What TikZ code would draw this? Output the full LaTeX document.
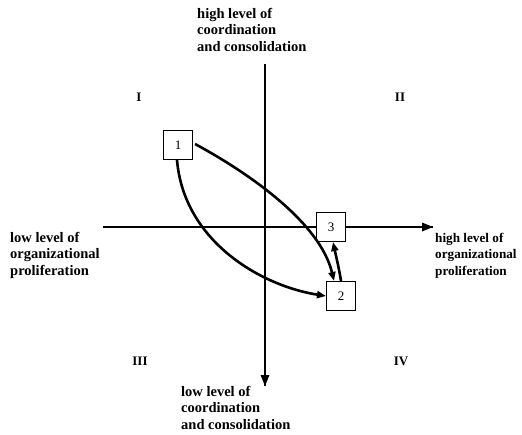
\documentclass[tikz,border=0pt]{standalone}
\usepackage{fontspec}
\setmainfont{Liberation Serif}
\usetikzlibrary{arrows.meta}
\begin{document}
\begin{tikzpicture}[x=1pt,y=-1pt,
  axis/.style={line width=2pt},
  flow/.style={line width=2.6pt,-{Triangle[length=9pt,width=7pt]}},
  stage/.style={draw,line width=1.1pt,fill=white,minimum size=29pt,inner sep=0pt,font=\fontsize{13}{13}\selectfont},
  axislabel/.style={align=left,anchor=north west,inner sep=0pt,font=\bfseries\fontsize{14.5}{16.5}\selectfont},
  quadrant/.style={inner sep=0pt,font=\bfseries\fontsize{13}{13}\selectfont}]
\useasboundingbox (0,0) rectangle (522,434);
\fill[white] (0,0) rectangle (522,434);

% axes
\coordinate (ytop) at (265,64);
\coordinate (ybot) at (265,386);
\coordinate (xleft) at (103,227);
\coordinate (xright) at (433,227);
\draw[axis] (ytop) -- (ybot);
\draw[axis] (xleft) -- (xright);
\fill (ybot) -- ++(-4.5,-11) -- ++(9,0) -- cycle;
\fill (xright) -- ++(-11,-4.5) -- ++(0,9) -- cycle;

% axis labels
\node[axislabel] (top) at (197,8) {high level of\\coordination\\and consolidation};
\node[axislabel] (left) at (10,232) {low level of\\organizational\\proliferation};
\node[axislabel,font=\bfseries\fontsize{13.2}{16.5}\selectfont] (right) at (435,233) {high level of\\organizational\\proliferation};
\node[axislabel] (bottom) at (181,386) {low level of\\coordination\\and consolidation};

% quadrant numbers
\node[quadrant] (q1) at (139,97) {I};
\node[quadrant] (q2) at (400,97) {II};
\node[quadrant] (q3) at (140,361) {III};
\node[quadrant] (q4) at (401,361) {IV};

% stages
\node[stage] (s1) at (178,145) {1};
\node[stage] (s3) at (331,227) {3};
\node[stage] (s2) at (341,296) {2};

% transitions
\draw[flow] ([xshift=2pt,yshift=1pt]s1.east) .. controls (247,172) and (320,222) .. ([xshift=-7pt]s2.north);
\draw[flow] ([xshift=-1pt]s1.south) .. controls (184,242) and (262,286) .. (s2.west);
\draw[flow] ([xshift=0pt]s2.north) .. controls (339,268) and (336,256) .. ([xshift=2pt]s3.south);
\end{tikzpicture}
\end{document}
